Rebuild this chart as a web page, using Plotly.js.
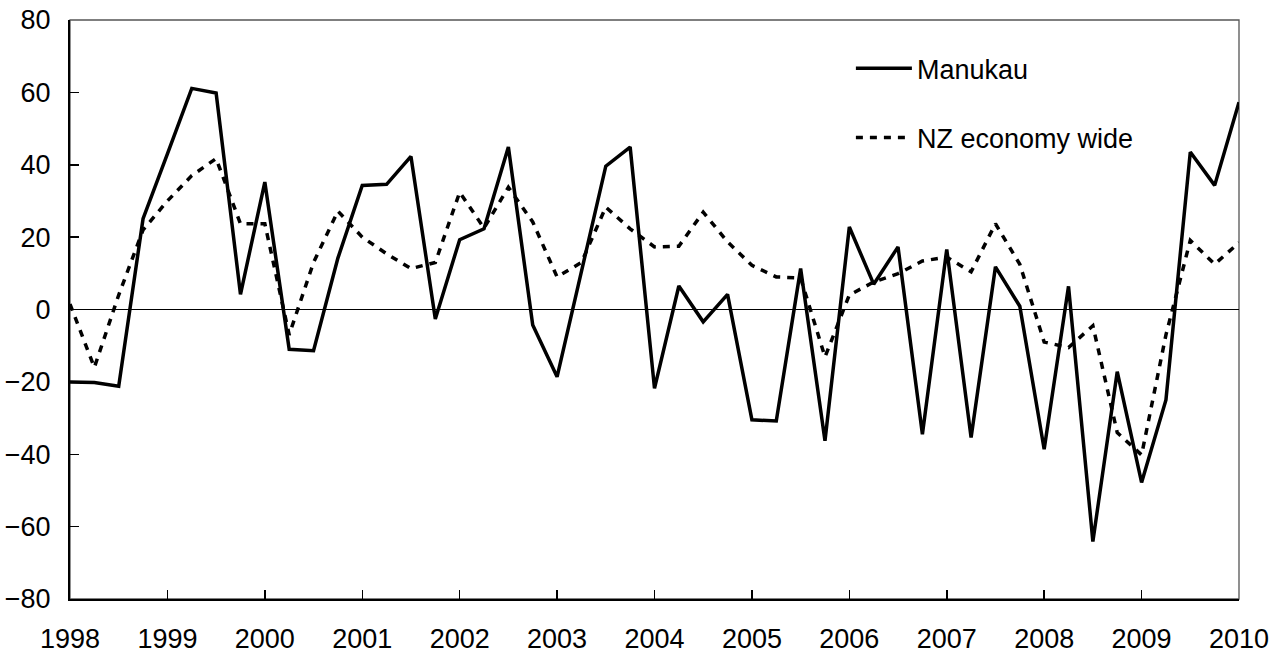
<!DOCTYPE html>
<html>
<head>
<meta charset="utf-8">
<script src="https://cdn.plot.ly/plotly-3.0.1.min.js"></script>
<style>
  html, body { margin: 0; padding: 0; background: #fff; }
  #chart { width: 1285px; height: 659px; }
</style>
</head>
<body>
<div id="chart"></div>
<script>
// Quarterly observations, 1998 Q1 .. 2010 Q1
var startYear = 1998;
var quartersPerYear = 4;

var manukau = [
  -20.0, -20.2, -21.2, 25.1,
  43.0, 61.1, 59.8, 4.2,
  35.2, -11.0, -11.4, 14.2,
  34.3, 34.6, 42.3, -2.6,
  19.3, 22.3, 44.9, -4.3,
  -18.6, 10.5, 39.6, 44.9,
  -21.8, 6.5, -3.4, 4.2,
  -30.5, -30.8, 11.3, -36.3,
  22.8, 7.0, 17.3, -34.5,
  16.6, -35.4, 11.8, 0.9,
  -38.6, 6.4, -64.1, -17.2,
  -47.8, -25.0, 43.5, 34.3,
  57.3
];

var nzEconomy = [
  1.5, -16.0, 4.0, 22.0,
  30.0, 37.0, 41.7, 23.7,
  23.7, -7.0, 13.0, 27.2,
  20.0, 15.4, 11.3, 13.0,
  32.4, 22.5, 33.8, 24.2,
  9.0, 13.0, 28.3, 22.3,
  17.3, 17.5, 26.9, 18.7,
  12.2, 9.0, 8.7, -13.1,
  4.0, 7.6, 9.9, 13.4,
  14.5, 10.4, 23.7, 12.5,
  -9.0, -10.5, -4.5, -34.0,
  -40.2, -7.0, 19.1, 12.5,
  18.5
];

var yearTicks = [1998, 1999, 2000, 2001, 2002, 2003, 2004, 2005, 2006, 2007, 2008, 2009, 2010];
var yearLabels = ['1998', '1999', '2000', '2001', '2002', '2003', '2004', '2005', '2006', '2007', '2008', '2009', '2010'];
var seriesNames = ['Manukau', 'NZ economy wide'];

var xs = manukau.map(function (_, i) { return startYear + i / quartersPerYear; });

var FONT = 'Liberation Sans, Arial, sans-serif';

var traces = [
  {
    x: xs, y: manukau, name: seriesNames[0], type: 'scatter', mode: 'lines',
    line: { color: '#000000', width: 3.5 }, legendgroup: 'a'
  },
  {
    x: xs, y: nzEconomy, name: seriesNames[1], type: 'scatter', mode: 'lines',
    line: { color: '#000000', width: 3.5, dash: '7px,7px' }, legendgroup: 'b'
  }
];

var layout = {
  width: 1285, height: 659,
  paper_bgcolor: '#ffffff', plot_bgcolor: '#ffffff',
  margin: { l: 70, r: 46, t: 20, b: 60 },
  font: { family: FONT, size: 27, color: '#000000' },
  showlegend: true,
  legend: {
    x: 0.668, y: 0.958, xanchor: 'left', yanchor: 'top',
    bgcolor: 'rgba(0,0,0,0)', borderwidth: 0,
    font: { family: FONT, size: 27, color: '#000000' },
    traceorder: 'grouped', tracegroupgap: 31,
    itemwidth: 56
  },
  xaxis: {
    range: [1998, 2010], tickmode: 'array', tickvals: yearTicks, ticktext: yearLabels,
    showgrid: false, zeroline: false,
    showline: true, linecolor: '#000000', linewidth: 2,
    ticks: 'inside', ticklen: 9, tickwidth: 1.5, tickcolor: '#000000',
    ticklabelstandoff: 15,
    tickfont: { family: FONT, size: 27, color: '#000000' }
  },
  yaxis: {
    range: [-80, 80], tickmode: 'linear', tick0: -80, dtick: 20,
    showgrid: false, zeroline: true, zerolinecolor: '#000000', zerolinewidth: 1.2,
    showline: true, linecolor: '#000000', linewidth: 2,
    ticks: 'inside', ticklen: 9, tickwidth: 1.5, tickcolor: '#000000',
    ticklabelstandoff: 12,
    tickfont: { family: FONT, size: 27, color: '#000000' }
  },
  shapes: [
    { type: 'rect', xref: 'paper', yref: 'paper', x0: 0, x1: 1, y0: 0, y1: 1,
      line: { color: '#555555', width: 1.3 }, layer: 'below' }
  ]
};

Plotly.newPlot('chart', traces, layout, { displayModeBar: false, staticPlot: true });
</script>
</body>
</html>
